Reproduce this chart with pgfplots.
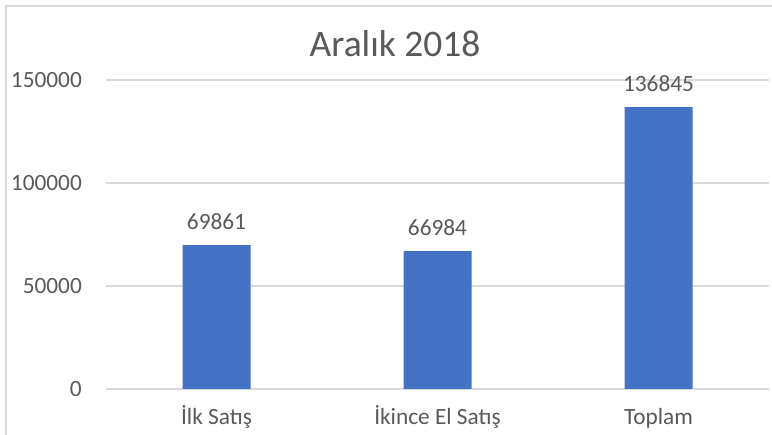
\documentclass[border=0pt]{standalone}
\usepackage{fontspec}
\setmainfont{Carlito}
\usepackage{pgfplots}
\pgfplotsset{compat=1.18}
\definecolor{barblue}{HTML}{4472C4}
\definecolor{txtgray}{HTML}{595959}
\definecolor{gridgray}{HTML}{D9D9D9}
\begin{document}
\begin{tikzpicture}[x=1pt,y=1pt]
\path[use as bounding box] (0,0) rectangle (772,435);
\draw[gridgray, line width=1.5pt] (6,0) -- (6,429) -- (772,429);
\begin{axis}[
  at={(106pt,46pt)}, anchor=south west,
  scale only axis, width=663pt, height=309pt,
  xmin=-0.5, xmax=2.5, ymin=0, ymax=150000,
  axis line style={draw=none},
  major tick length=0pt,
  ymajorgrids, grid style={gridgray, line width=1.2pt},
  ytick={0,50000,100000,150000},
  scaled y ticks=false,
  /pgf/number format/assume math mode=true,
  yticklabel style={/pgf/number format/fixed, /pgf/number format/1000 sep={},
    anchor=east, inner sep=0pt, xshift=-24pt},
  xtick={0,1,2},
  xticklabels={İlk Satış, İkince El Satış, Toplam},
  xticklabel style={anchor=base, inner sep=0pt, yshift=-36pt},
  tick label style={font=\fontsize{23.3}{27}\selectfont, text=txtgray},
  title={Aralık 2018},
  title style={font=\fontsize{37.5}{42}\selectfont, text=txtgray, at={(0.436,1)}, anchor=center, yshift=30pt},
  ybar, bar width=68pt,
  point meta=explicit symbolic,
  nodes near coords,
  nodes near coords style={font=\fontsize{23.3}{27}\selectfont, text=txtgray, anchor=base, inner sep=0pt, yshift=16pt},
]
\addplot[fill=barblue, draw=none] coordinates {(0,69861) [69861] (1,66984) [66984] (2,136845) [136845]};
\end{axis}
\end{tikzpicture}
\end{document}
